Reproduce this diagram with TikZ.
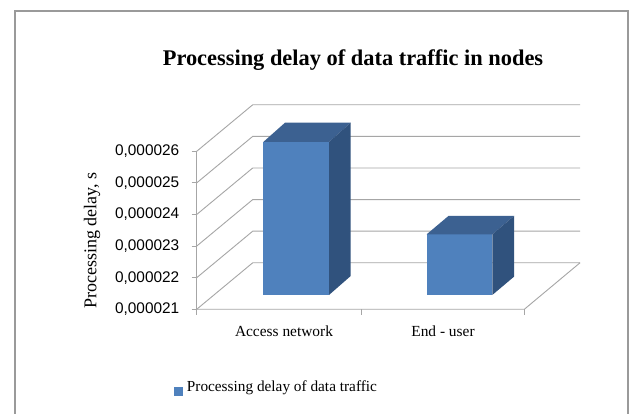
\documentclass[tikz,border=0pt]{standalone}
\usepackage{fontspec}
\setmainfont{Liberation Serif}
\newfontfamily\arialf{Liberation Sans}
\definecolor{barfront}{HTML}{4F81BD}
\definecolor{bartop}{HTML}{3C6191}
\definecolor{barside}{HTML}{30527D}
\definecolor{gridc}{HTML}{A6A6A6}
\definecolor{framec}{HTML}{9A9A9A}
\begin{document}
\begin{tikzpicture}[x=1pt,y=-1pt,
  gridline/.style={draw=gridc,line width=0.9pt},
  ticklabel/.style={anchor=east,inner sep=0pt,font=\arialf\fontsize{15.4}{17}\selectfont},
  catlabel/.style={anchor=base,inner sep=0pt,font=\fontsize{15.4}{17}\selectfont},
  front/.style={fill=barfront},
  topface/.style={fill=bartop},
  sideface/.style={fill=barside}]
\useasboundingbox (0,0) rectangle (630,414);
\fill[white] (0,0) rectangle (630,414);
\draw[framec,line width=1.4pt] (15,414) -- (15,11) -- (628,11) -- (628,414);
% gridlines and side wall
\foreach \i/\lab in {0/21,1/22,2/23,3/24,4/25,5/26}{
  \pgfmathsetmacro{\yf}{309.3-31.6*\i}
  \pgfmathsetmacro{\yb}{\yf-46.5}
  \draw[gridline] (196.7,\yf) -- (252.7,\yb) -- (580,\yb);
  \draw[gridline] (191.7,\yf) -- (196.7,\yf);
  \node[ticklabel] (t\lab) at (179.5,\yf) {0,0000\lab};
}
\draw[gridline] (196.7,151.3) -- (196.7,315);
\draw[gridline] (196.7,309.3) -- (524.3,309.3) -- (580,262.8);
\draw[gridline] (361,309.3) -- (361,315);
\draw[gridline] (524.3,309.3) -- (524.3,315);
% bar 1
\fill[front] (263.3,142) rectangle (329,295);
\fill[topface] (263.3,142) -- (285,122.7) -- (350.7,122.7) -- (329,142) -- cycle;
\fill[sideface] (329,142) -- (350.7,122.7) -- (350.7,276) -- (329,295) -- cycle;
% bar 2
\fill[front] (426.7,234.3) rectangle (492.3,295);
\fill[topface] (426.7,234.3) -- (448.4,216) -- (514,216) -- (492.3,234.3) -- cycle;
\fill[sideface] (492.3,234.3) -- (514,216) -- (514,276.7) -- (492.3,295) -- cycle;
% texts
\node[anchor=base,inner sep=0pt,font=\bfseries\fontsize{22.4}{26}\selectfont] (title) at (353,66) {Processing delay of data traffic in nodes};
\node[rotate=90,inner sep=0pt,font=\fontsize{18}{20}\selectfont] (ylab) at (92,240.5) {Processing delay, s};
\node[catlabel] (c1) at (284,336.7) {Access network};
\node[catlabel] (c2) at (443,336.7) {End - user};
\fill[barfront] (174.3,387.3) rectangle (183.3,396);
\node[anchor=base west,inner sep=0pt,font=\fontsize{15.3}{17}\selectfont] (leg) at (186.7,391.7) {Processing delay of data traffic};
\end{tikzpicture}
\end{document}
